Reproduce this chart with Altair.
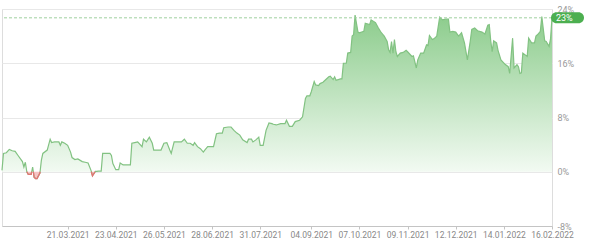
import altair as alt
import pandas as pd

START = "2021-02-04"

days = [0, 1, 3, 5, 7, 9, 11, 14, 15, 16, 17, 18, 20, 21, 22, 23, 24, 26, 27, 28,
        31, 33, 34, 36, 39, 40, 41, 43, 45, 47, 48, 50, 52, 55, 57, 59, 61, 62, 64, 65,
        66, 68, 69, 72, 74, 75, 76, 78, 80, 81, 83, 84, 88, 89, 91, 93, 96, 97, 99, 101,
        103, 104, 106, 109, 111, 113, 115, 116, 118, 120, 123, 125, 127, 129, 131, 132, 134, 136, 138, 139,
        141, 145, 147, 149, 151, 152, 155, 157, 159, 161, 163, 165, 168, 169, 171, 172, 174, 176, 177, 179,
        181, 183, 185, 186, 188, 191, 194, 195, 197, 199, 201, 204, 206, 208, 209, 211, 212, 214, 215, 217,
        218, 220, 222, 224, 225, 227, 228, 229, 232, 233, 234, 236, 237, 239, 240, 241, 242, 244, 245, 248,
        249, 252, 253, 256, 258, 260, 262, 264, 265, 266, 267, 268, 269, 270, 271, 273, 275, 277, 278, 281,
        282, 284, 285, 287, 289, 291, 292, 293, 295, 296, 298, 300, 302, 304, 306, 307, 309, 311, 313, 315,
        317, 319, 321, 322, 324, 326, 329, 331, 333, 334, 335, 336, 337, 339, 340, 342, 345, 347, 348, 350,
        351, 353, 354, 355, 356, 357, 360, 361, 363, 365, 366, 367, 369, 370, 372, 373, 375, 376, 377]

values = [0.2, 2.7, 2.8, 3.3, 3.1, 3.0, 2.4, 1.5, 0.7, 1.4, 0.0, -0.4, -0.4, 0.7, -0.8, -1.0, -1.0, -0.2, 1.7, 2.7,
          3.2, 4.8, 4.3, 4.4, 4.4, 3.9, 4.4, 4.2, 3.9, 2.9, 2.1, 1.8, 1.9, 1.5, 1.4, 1.3, 0.2, -0.6, 0.05, 0.05,
          0.1, 0.1, 2.7, 2.7, 2.7, 2.4, 1.2, 0.3, 0.3, 1.3, 1.0, 1.0, 1.0, 4.2, 4.3, 4.4, 3.7, 4.8, 4.4, 5.1,
          4.2, 3.2, 3.2, 3.2, 4.2, 4.3, 3.2, 2.7, 4.4, 4.4, 4.4, 4.8, 4.2, 4.2, 3.9, 4.3, 3.7, 3.4, 2.9, 3.2,
          3.7, 3.7, 5.6, 5.7, 5.7, 6.5, 6.6, 6.6, 6.1, 5.7, 5.4, 4.7, 4.3, 4.8, 4.8, 4.4, 4.7, 5.1, 3.9, 3.9,
          6.1, 7.2, 7.1, 7.0, 6.9, 7.1, 7.1, 7.6, 6.7, 6.7, 7.4, 7.6, 8.1, 10.8, 11.2, 11.2, 11.8, 13.3, 12.8, 12.7,
          13.0, 13.2, 13.6, 14.0, 14.1, 13.6, 14.0, 13.5, 13.7, 13.7, 16.0, 16.0, 17.5, 17.6, 20.0, 20.2, 23.1, 20.6, 20.5, 20.7,
          21.9, 21.7, 22.4, 22.0, 21.2, 20.5, 20.0, 19.2, 18.0, 17.6, 19.2, 17.5, 19.5, 17.7, 17.0, 17.5, 17.6, 17.9, 17.7, 17.0,
          17.1, 15.3, 16.5, 17.5, 17.5, 18.7, 18.6, 20.1, 19.5, 19.6, 20.0, 22.8, 22.4, 22.5, 22.5, 20.6, 20.7, 20.6, 20.0, 20.5,
          19.0, 16.5, 19.3, 21.0, 21.2, 20.8, 20.6, 20.3, 21.6, 21.7, 19.3, 17.7, 19.3, 19.0, 17.9, 16.5, 15.8, 15.5, 14.5, 19.7,
          15.3, 15.8, 15.5, 14.5, 14.6, 17.5, 17.0, 19.7, 19.0, 19.0, 20.0, 20.2, 20.7, 22.9, 19.3, 19.2, 18.5, 19.6, 22.7]

tick_dates = [(2021, 3, 21), (2021, 4, 23), (2021, 5, 26), (2021, 6, 28), (2021, 7, 31),
              (2021, 9, 4), (2021, 10, 7), (2021, 11, 9), (2021, 12, 12), (2022, 1, 14), (2022, 2, 16)]
y_ticks = [-8, 0, 8, 16, 24]

assert len(days) == len(values)

base = pd.Timestamp(START)
dates = [base + pd.Timedelta(days=d) for d in days]

# series with zero-crossing points inserted (for clean colour split)
rows = []
for i in range(len(values)):
    if i > 0:
        v0, v1 = values[i - 1], values[i]
        if (v0 < 0 < v1) or (v0 > 0 > v1):
            t = v0 / (v0 - v1)
            rows.append((dates[i - 1] + (dates[i] - dates[i - 1]) * t, 0.0))
    rows.append((dates[i], values[i]))
df = pd.DataFrame(rows, columns=["date", "value"])
df["pos"] = df["value"].clip(lower=0)
df["neg"] = df["value"].clip(upper=0)

# negative runs as separate segments
seg = 0
segs = [None] * len(df)
vals = df["value"].tolist()
i = 0
while i < len(vals):
    if vals[i] <= 0:
        j = i
        while j < len(vals) and vals[j] <= 0:
            j += 1
        if any(v < 0 for v in vals[i:j]):
            for k in range(i, j):
                segs[k] = seg
            seg += 1
        i = j
    else:
        i += 1
df["seg"] = segs
neg_df = df[df["seg"].notna()].copy()

last_df = pd.DataFrame({"date": [dates[-1]], "value": [values[-1]],
                        "label": [f"{round(values[-1])}%"]})

x_scale = alt.Scale(nice=False)
y_scale = alt.Scale(domain=[-8, 24], nice=False)
x_axis = alt.Axis(
    values=[alt.DateTime(year=y, month=m, date=d) for (y, m, d) in tick_dates],
    format="%d.%m.%Y", title=None, grid=False, domainColor="#c4c4c4",
    tickColor="#c4c4c4", tickSize=3, labelColor="#888888", labelFontSize=8.5,
    labelPadding=1, labelFlush=False, labelOverlap=False,
)
y_axis = alt.Axis(
    orient="right", values=y_ticks, labelExpr="datum.value + '%'", title=None,
    domain=False, ticks=False, grid=True, gridColor="#e8e8e8", labelColor="#999999",
    labelFontSize=9, labelPadding=5, labelOverlap=False,
)

X = alt.X("date:T", scale=x_scale, axis=x_axis)

green_grad = alt.Gradient(
    gradient="linear",
    stops=[alt.GradientStop(color="#8ccc8c", offset=0),
           alt.GradientStop(color="#f2faf2", offset=1)],
    x1=0, x2=0, y1=0, y2=1,
)

area_pos = alt.Chart(df).mark_area(color=green_grad).encode(
    x=X, y=alt.Y("pos:Q", scale=y_scale, axis=y_axis), y2=alt.datum(0)
)
area_neg = alt.Chart(df).mark_area(color="#f6c4c4").encode(
    x=X, y=alt.Y("neg:Q", scale=y_scale, axis=y_axis), y2=alt.datum(0)
)
line_all = alt.Chart(df).mark_line(color="#82c282", strokeWidth=1.2).encode(
    x=X, y=alt.Y("value:Q", scale=y_scale, axis=y_axis)
)
line_neg = alt.Chart(neg_df).mark_line(color="#e57373", strokeWidth=1.3).encode(
    x=X, y=alt.Y("value:Q", scale=y_scale, axis=y_axis), detail="seg:N"
)
rule = alt.Chart(last_df).mark_rule(color="#9fd09f", strokeDash=[3, 2], strokeWidth=1).encode(
    y=alt.Y("value:Q", scale=y_scale, axis=y_axis)
)
badge = alt.Chart(last_df).mark_rect(
    color="#4caf50", cornerRadius=6, xOffset=-1, x2Offset=32, yOffset=-5.5, y2Offset=5.5
).encode(
    x=X, x2="date:T", y=alt.Y("value:Q", scale=y_scale, axis=y_axis), y2="value:Q"
)
badge_text = alt.Chart(last_df).mark_text(
    align="left", baseline="middle", dx=4, color="#ffffff", fontSize=9
).encode(
    x=X, y=alt.Y("value:Q", scale=y_scale, axis=y_axis), text="label:N"
)

chart = alt.layer(area_pos, area_neg, line_all, line_neg, rule, badge, badge_text).properties(
    width=550, height=217,
    autosize=alt.AutoSizeParams(type="none"),
    padding={"left": 2, "top": 9, "right": 38, "bottom": 21},
).configure_view(stroke=None).configure(font="Roboto")

chart.save("out.html", embed_options={"renderer": "svg", "actions": False})
